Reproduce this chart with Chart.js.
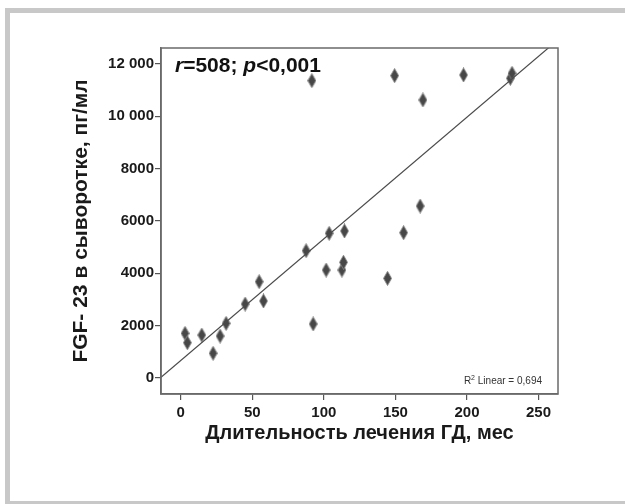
<!DOCTYPE html>
<html>
<head>
<meta charset="utf-8">
<script src="https://cdn.jsdelivr.net/npm/chart.js@4/dist/chart.umd.min.js"></script>
<style>
  html, body { margin: 0; padding: 0; background: #fff; }
  #wrap { position: relative; width: 625px; height: 504px; overflow: hidden; }
  #frame {
    position: absolute; left: 5px; top: 8px; width: 640px; height: 488px;
    border-left: 5px solid #c8c8c8; border-top: 5px solid #c8c8c8; border-bottom: 5px solid #c8c8c8;
  }
  #chart { position: absolute; left: 0; top: 0; }
</style>
</head>
<body>
<div id="wrap">
  <div id="frame"></div>
  <canvas id="chart" width="625" height="504"></canvas>
</div>
<script>
// Длительность лечения ГД (мес) и FGF-23 (пг/мл)
const durationMonths = [3.0, 4.6, 14.7, 22.6, 27.5, 31.7, 45, 54.8, 57.8, 87.6, 92.5, 101.6, 103.7,
    112.6, 113.7, 114.4, 144.5, 155.7, 167.3, 91.6, 149.4, 169.2, 197.6, 230.3, 231.5];
const fgf23Values = [1708, 1349, 1643, 944, 1605, 2090, 2828, 3680, 2943, 4865, 2064, 4127, 5530,
    4127, 4422, 5618, 3809, 5553, 6573, 11362, 11553, 10624, 11580, 11453, 11645];

const xTicks = [0, 50, 100, 150, 200, 250];
const yTicks = [0, 2000, 4000, 6000, 8000, 10000, 12000];
const yTickLabels = ['0', '2000', '4000', '6000', '8000', '10 000', '12 000'];

// линия регрессии
const fitIntercept = 668;
const fitSlope = 46.5;
const xMin = -13.8, xMax = 263.6;
const yMin = -611, yMax = 12611;

const fontFamily = "'Liberation Sans', Arial, sans-serif";

// вытянутый ромб как в SPSS
function makeDiamond() {
    const c = document.createElement('canvas');
    c.width = 9;
    c.height = 15;
    const g = c.getContext('2d');
    g.beginPath();
    g.moveTo(4.5, 0.5);
    g.lineTo(8.5, 7.5);
    g.lineTo(4.5, 14.5);
    g.lineTo(0.5, 7.5);
    g.closePath();
    g.fillStyle = '#474747';
    g.fill();
    g.strokeStyle = 'rgba(130,130,130,0.9)';
    g.lineWidth = 1;
    g.stroke();
    return c;
}

const framePlugin = {
    id: 'frameAndText',
    afterDraw(chart) {
        const {ctx, chartArea: a} = chart;
        ctx.save();
        ctx.strokeStyle = '#6a6a6a';
        ctx.lineWidth = 1.5;
        ctx.strokeRect(a.left, a.top, a.right - a.left, a.bottom - a.top);

        // r=508; p<0,001
        let x = a.left + 14;
        const y = a.top + 24;
        ctx.fillStyle = '#111';
        ctx.textBaseline = 'alphabetic';
        const parts = [['r', true], ['=508; ', false], ['p', true], ['<0,001', false]];
        parts.forEach(function(p) {
            ctx.font = (p[1] ? 'italic ' : '') + 'bold 21px ' + fontFamily;
            ctx.fillText(p[0], x, y);
            x += ctx.measureText(p[0]).width;
        });

        // R2 Linear = 0,694
        ctx.fillStyle = '#333';
        const tail = ' Linear = 0,694';
        ctx.font = '10px ' + fontFamily;
        const tailW = ctx.measureText(tail).width;
        ctx.font = '7px ' + fontFamily;
        const supW = ctx.measureText('2').width;
        ctx.font = '10px ' + fontFamily;
        const rW = ctx.measureText('R').width;
        let sx = a.right - 16 - tailW - supW - rW;
        const sy = a.bottom - 10;
        ctx.fillText('R', sx, sy);
        sx += rW;
        ctx.font = '7px ' + fontFamily;
        ctx.fillText('2', sx, sy - 4);
        sx += supW;
        ctx.font = '10px ' + fontFamily;
        ctx.fillText(tail, sx, sy);
        ctx.restore();
    }
};

document.addEventListener('DOMContentLoaded', function() {
    const ctx = document.getElementById('chart').getContext('2d');

    const points = durationMonths.map((d, i) => ({x: d, y: fgf23Values[i]}));
    const fitLine = [xMin, xMax].map(v => ({x: v, y: fitIntercept + fitSlope * v}));

    new Chart(ctx, {
        type: 'scatter',
        data: {
            datasets: [
                {
                    label: 'fit',
                    type: 'line',
                    data: fitLine,
                    borderColor: '#4a4a4a',
                    borderWidth: 1.2,
                    pointRadius: 0,
                    fill: false
                },
                {
                    label: 'FGF-23',
                    data: points,
                    pointStyle: makeDiamond(),
                    pointRadius: 6
                }
            ]
        },
        options: {
            responsive: false,
            animation: false,
            devicePixelRatio: 1,
            layout: {
                padding: {left: 0, top: 48, right: 67, bottom: 0}
            },
            plugins: {
                legend: {display: false},
                tooltip: {enabled: false}
            },
            scales: {
                x: {
                    type: 'linear',
                    min: xMin,
                    max: xMax,
                    afterBuildTicks: function(scale) {
                        scale.ticks = xTicks.map(v => ({value: v}));
                    },
                    afterFit: function(scale) {
                        scale.height = 110;
                    },
                    grid: {
                        drawOnChartArea: false,
                        drawTicks: true,
                        tickLength: 6,
                        color: '#555',
                        lineWidth: 1.2
                    },
                    border: {color: '#6a6a6a', width: 1.5},
                    ticks: {
                        padding: 4,
                        color: '#1a1a1a',
                        maxRotation: 0,
                        font: {family: fontFamily, size: 15, weight: 'bold'}
                    },
                    title: {
                        display: true,
                        text: 'Длительность лечения ГД, мес',
                        color: '#1a1a1a',
                        padding: {top: 0, bottom: 59},
                        font: {family: fontFamily, size: 20, weight: 'bold'}
                    }
                },
                y: {
                    type: 'linear',
                    min: yMin,
                    max: yMax,
                    afterBuildTicks: function(scale) {
                        scale.ticks = yTicks.map(v => ({value: v}));
                    },
                    afterFit: function(scale) {
                        scale.width = 161;
                    },
                    grid: {
                        drawOnChartArea: false,
                        drawTicks: true,
                        tickLength: 6,
                        color: '#555',
                        lineWidth: 1.2
                    },
                    border: {color: '#6a6a6a', width: 1.5},
                    ticks: {
                        padding: 1,
                        color: '#1a1a1a',
                        font: {family: fontFamily, size: 15, weight: 'bold'},
                        callback: function(value) {
                            const i = yTicks.indexOf(value);
                            return i >= 0 ? yTickLabels[i] : '';
                        }
                    },
                    title: {
                        display: true,
                        text: 'FGF- 23 в сыворотке, пг/мл',
                        color: '#1a1a1a',
                        padding: {top: 69, bottom: 0},
                        font: {family: fontFamily, size: 21, weight: 'bold'}
                    }
                }
            }
        },
        plugins: [framePlugin]
    });
});
</script>
</body>
</html>
